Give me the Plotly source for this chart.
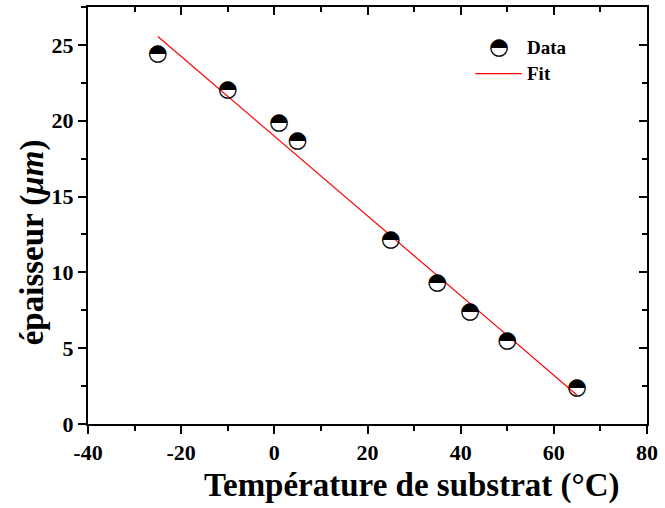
import plotly.graph_objects as go

temp = [-25, -10, 1, 5, 25, 35, 42, 50, 65]
thick = [24.4, 22.0, 19.85, 18.64, 12.09, 9.25, 7.39, 5.45, 2.37]
fit_x = [-25, 65]
fit_y = [25.55, 1.9]
x_ticks = [-40, -20, 0, 20, 40, 60, 80]
y_ticks = [0, 5, 10, 15, 20, 25]

FONT = "Liberation Serif"
GLYPH = "\u25D3"
fig = go.Figure()
fig.add_trace(go.Scatter(x=fit_x, y=fit_y, mode="lines", name="Fit",
                         line=dict(color="#ff0000", width=1.2), showlegend=False))
fig.add_trace(go.Scatter(x=temp, y=thick, mode="text", name="Data",
                         text=[GLYPH] * len(temp), textposition="middle center",
                         textfont=dict(family="DejaVu Sans", size=23, color="black"),
                         showlegend=False))
fig.add_trace(go.Scatter(x=[None], y=[None], xaxis="x2", yaxis="y2", showlegend=False))

axis_common = dict(showgrid=False, zeroline=False, showline=True, linecolor="black",
                   linewidth=2, tickcolor="black", tickwidth=1.5,
                   tickfont=dict(family=FONT, size=22, color="black"))
minor_x = lambda t: dict(dtick=10, ticks=t, ticklen=5, tickcolor="black", tickwidth=1.5)
minor_y = lambda t: dict(dtick=2.5, ticks=t, ticklen=5, tickcolor="black", tickwidth=1.5)

fig.update_layout(
    width=665, height=508, plot_bgcolor="white", paper_bgcolor="white",
    margin=dict(l=88, r=15, t=7, b=84),
    showlegend=False,
    xaxis=dict(range=[-40, 80], tickvals=x_ticks, ticktext=[f"<b>{v}</b>" for v in x_ticks],
               ticks="outside", ticklen=8, minor=minor_x("outside"), **axis_common),
    yaxis=dict(range=[0, 27.5], tickvals=y_ticks, ticktext=[f"<b>{v}</b>" for v in y_ticks],
               ticks="outside", ticklen=8, minor=minor_y("outside"), **axis_common),
    xaxis2=dict(range=[-40, 80], overlaying="x", side="top", anchor="y", tickvals=x_ticks,
                showticklabels=False, ticks="inside", ticklen=8, minor=minor_x("inside"),
                **axis_common),
    yaxis2=dict(range=[0, 27.5], overlaying="y", side="right", anchor="x", tickvals=y_ticks,
                showticklabels=False, ticks="inside", ticklen=8, minor=minor_y("inside"),
                **axis_common),
    shapes=[dict(type="line", xref="paper", yref="paper", x0=0.693, x1=0.776, y0=0.840, y1=0.840,
                 line=dict(color="#ff0000", width=1.2))],
    annotations=[
        dict(text=GLYPH, xref="paper", yref="paper", x=0.736, y=0.906,
             xanchor="center", yanchor="middle", showarrow=False,
             font=dict(family="DejaVu Sans", size=23, color="black")),
        dict(text="<b>Data</b>", xref="paper", yref="paper", x=0.781, y=0.903,
             xanchor="left", yanchor="middle", showarrow=False,
             font=dict(family=FONT, size=19, color="black")),
        dict(text="<b>Fit</b>", xref="paper", yref="paper", x=0.781, y=0.841,
             xanchor="left", yanchor="middle", showarrow=False,
             font=dict(family=FONT, size=19, color="black")),
        dict(text="<b>Température de substrat (°C)</b>", xref="paper", yref="paper",
             x=0.580, y=-0.098, xanchor="center", yanchor="top", showarrow=False,
             font=dict(family=FONT, size=33, color="black")),
        dict(text="<b>épaisseur (<i>μm</i>)</b>", xref="paper", yref="paper",
             x=-0.10, y=0.436, xanchor="center", yanchor="middle", textangle=-90,
             showarrow=False, font=dict(family=FONT, size=33, color="black")),
    ],
)
fig.write_html("out.html", config={"displayModeBar": False},
               post_script="document.body.style.margin='0';")
